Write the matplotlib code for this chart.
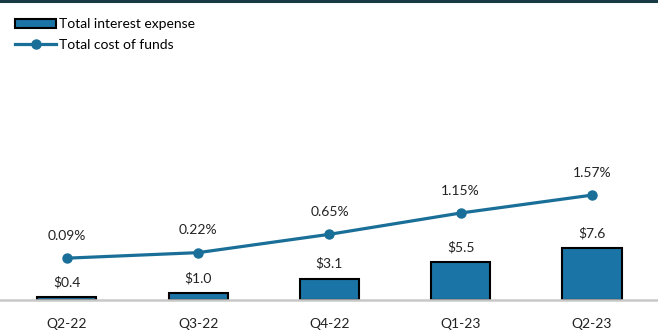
import matplotlib
matplotlib.use("Agg")
import matplotlib.pyplot as plt
from matplotlib.lines import Line2D

plt.rcParams['font.family'] = ['Lato', 'DejaVu Sans']

quarters = ["Q2-22", "Q3-22", "Q4-22", "Q1-23", "Q2-23"]
interest_expense = [0.4, 1.0, 3.1, 5.5, 7.6]          # $ millions
cost_of_funds = [0.09, 0.22, 0.65, 1.15, 1.57]         # percent

bar_color = "#1b74a6"
line_color = "#1a6f98"

fig = plt.figure(figsize=(6.58, 3.34), dpi=100)
ax = fig.add_axes([0.0, 0.1018, 1.0, 0.7186])
ax2 = ax.twinx()

x = list(range(len(quarters)))
bars = ax.bar(x, interest_expense, width=0.45, color=bar_color,
              edgecolor="black", linewidth=1.5, zorder=2,
              label="Total interest expense")
ax.set_xlim(-0.51, 4.503)
ax.set_ylim(0, 35.1)

line, = ax2.plot(x, cost_of_funds, color=line_color, linewidth=2.3,
                 marker="o", markersize=6.5, zorder=3,
                 label="Total cost of funds")
ax2.set_ylim(-0.892, 4.742)

for xi, v in zip(x, interest_expense):
    ax.annotate(f"${v:.1f}", (xi, v), xytext=(0, 11), textcoords="offset points",
                ha="center", va="center", fontsize=10, color="#222222")
for xi, v in zip(x, cost_of_funds):
    ax2.annotate(f"{v:.2f}%", (xi, v), xytext=(0, 16), textcoords="offset points",
                 ha="center", va="center", fontsize=10, color="#222222")

for a in (ax, ax2):
    for s in a.spines.values():
        s.set_visible(False)
    a.set_yticks([])
ax.spines["bottom"].set_visible(True)
ax.spines["bottom"].set_color("#c8c8c8")
ax.spines["bottom"].set_linewidth(1.8)
ax.set_xticks(x)
ax.set_xticklabels(quarters, fontsize=10, color="#222222")
ax.tick_params(axis="x", length=0, pad=13)

fig.legend(handles=[bars, line], loc="upper left", bbox_to_anchor=(0.014, 0.962),
           frameon=False, fontsize=10, handlelength=3.0, handleheight=0.55,
           handletextpad=0.15, labelspacing=0.62, borderaxespad=0)

# dark rule across the top edge
fig.add_artist(Line2D([0, 1], [0.996, 0.996], transform=fig.transFigure,
                      color="#173a45", linewidth=2.2))

fig.savefig("out.png", dpi=100)
